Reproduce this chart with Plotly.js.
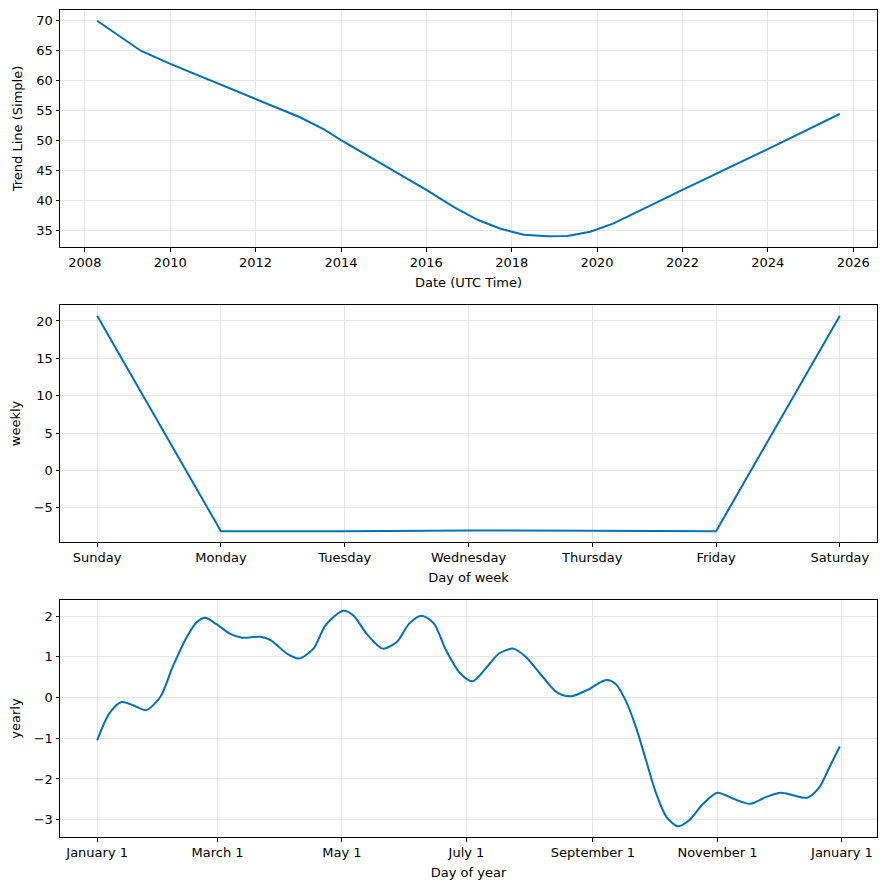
<!DOCTYPE html>
<html>
<head>
<meta charset="utf-8">
<script src="https://cdn.plot.ly/plotly-3.0.1.min.js"></script>
<style>html,body{margin:0;padding:0;background:#fff;}#chart{width:886px;height:890px;}</style>
</head>
<body>
<div id="chart"></div>
<script>
// ---- Trend component ----
const trendDates = ['2008-04-15','2009-04-23','2010-01-01','2012-01-01','2012-07-26','2013-01-15','2013-08-08','2014-01-01','2016-01-01','2016-08-25','2017-03-14','2017-09-27','2018-04-16','2018-11-03','2019-04-23','2019-11-03','2020-05-22','2022-01-01','2024-01-01','2025-09-09'];
const trendValues = [70.0,65.0,62.8,57.0,55.3,53.9,51.9,50.1,41.8,38.9,36.8,35.3,34.3,34.05,34.1,34.8,36.2,41.8,48.6,54.45];
const bandDates = ['2022-01-01','2024-01-01','2025-09-09'];
const bandUpper = [41.82,48.7,54.7];
const bandLower = [41.78,48.5,54.2];
const trendTickFormat = '%Y';

// ---- Weekly component ----
const weekDays = ['Sunday','Monday','Tuesday','Wednesday','Thursday','Friday','Saturday'];
const weeklyValues = [20.7,-8.15,-8.15,-8.05,-8.1,-8.15,20.7];

// ---- Yearly component (day offset from January 1) ----
const yearDays = [0,6,12,17.6,24,31,37,44,49,53,58.5,65,71,80,85,93,99,106,112,120.6,125.5,132,140,147,153,159,165,171,178,184,191,197,204,210,217,225,232,240,249.5,254,259,264,269,274,279,284.6,290,297,304,311.5,320,328,335,341,348,354,359,364];
const yearlyValues = [-1.05,-0.39,-0.11,-0.19,-0.31,0.02,0.75,1.49,1.86,1.96,1.80,1.57,1.47,1.49,1.41,1.08,0.96,1.2,1.78,2.13,2.02,1.57,1.2,1.37,1.82,2.01,1.82,1.16,0.59,0.40,0.75,1.08,1.2,1.0,0.59,0.14,0.03,0.18,0.43,0.34,-0.07,-0.72,-1.54,-2.36,-2.93,-3.16,-3.02,-2.61,-2.34,-2.48,-2.61,-2.44,-2.34,-2.40,-2.46,-2.2,-1.7,-1.2];
const yearBase = '2017-01-01';
const yearTickDates = ['2017-01-01','2017-03-01','2017-05-01','2017-07-01','2017-09-01','2017-11-01','2018-01-01'];
const yearTickLabels = ['January 1','March 1','May 1','July 1','September 1','November 1','January 1'];

// ---- derived ----
const baseMs = Date.parse(yearBase + 'T00:00:00Z');
const yearDates = yearDays.map(d => new Date(baseMs + d*86400000).toISOString().slice(0,19).replace('T',' '));

function padRange(lo, hi, f){ const s = hi - lo; return [lo - s*f, hi + s*f]; }
function dateRange(arr){
  const ms = arr.map(s => Date.parse(s.replace(' ','T') + (s.length<=10?'T00:00:00Z':'Z')));
  const r = padRange(Math.min(...ms), Math.max(...ms), 0.05);
  return r.map(v => new Date(v).toISOString().slice(0,19).replace('T',' '));
}

const blue = '#0072B2';
const band = 'rgba(0,114,178,0.2)';
const FONT = 'DejaVu Sans';
const grid = '#e6e6e6';

const traces = [
  {x: bandDates, y: bandUpper, mode:'lines', line:{width:0,color:band}, hoverinfo:'skip', showlegend:false, xaxis:'x', yaxis:'y'},
  {x: bandDates, y: bandLower, mode:'lines', line:{width:0,color:band}, fill:'tonexty', fillcolor:band, hoverinfo:'skip', showlegend:false, xaxis:'x', yaxis:'y'},
  {x: trendDates, y: trendValues, mode:'lines', line:{color:blue,width:2}, showlegend:false, xaxis:'x', yaxis:'y'},
  {x: weekDays, y: weeklyValues, mode:'lines', line:{color:blue,width:2}, showlegend:false, xaxis:'x2', yaxis:'y2'},
  {x: yearDates, y: yearlyValues, mode:'lines', line:{color:blue,width:2,shape:'spline',smoothing:0.8}, showlegend:false, xaxis:'x3', yaxis:'y3'}
];

const common = {
  showline:true, mirror:true, linecolor:'#000', linewidth:1,
  ticks:'outside', ticklen:3.5, tickwidth:1, tickcolor:'#000',
  showgrid:true, gridcolor:grid, gridwidth:1, zeroline:false,
  tickfont:{family:FONT,size:13,color:'#000'}
};
function ax(extra){ return Object.assign({}, common, extra); }
function ttl(t, s){ return {text:t, font:{family:FONT,size:13,color:'#000'}, standoff:s}; }

const allTrend = trendValues.concat(bandUpper, bandLower);
const layout = {
  width:886, height:890,
  margin:{l:60, r:9, t:10, b:53},
  paper_bgcolor:'#fff', plot_bgcolor:'#fff',
  showlegend:false,
  xaxis: ax({type:'date', anchor:'y', domain:[0,1], range:dateRange(trendDates), tickformat:trendTickFormat, dtick:'M24', tick0:'2008-01-01', title:ttl('Date (UTC Time)',8)}),
  yaxis: ax({anchor:'x', domain:[0.7134,1], range:padRange(Math.min(...allTrend), Math.max(...allTrend), 0.05), dtick:5, title:ttl('Trend Line (Simple)',10)}),
  xaxis2: ax({type:'category', anchor:'y2', domain:[0,1], range:[-0.3, weekDays.length-1+0.3], title:ttl('Day of week',8)}),
  yaxis2: ax({anchor:'x2', domain:[0.3567,0.6433], range:padRange(Math.min(...weeklyValues), Math.max(...weeklyValues), 0.05), dtick:5, title:ttl('weekly',10)}),
  xaxis3: ax({type:'date', anchor:'y3', domain:[0,1], range:dateRange(yearDates), tickvals:yearTickDates, ticktext:yearTickLabels, title:ttl('Day of year',8)}),
  yaxis3: ax({anchor:'x3', domain:[0,0.2866], range:padRange(Math.min(...yearlyValues), Math.max(...yearlyValues), 0.05), dtick:1, title:ttl('yearly',10)})
};

Plotly.newPlot('chart', traces, layout, {displayModeBar:false, staticPlot:true});
</script>
</body>
</html>
